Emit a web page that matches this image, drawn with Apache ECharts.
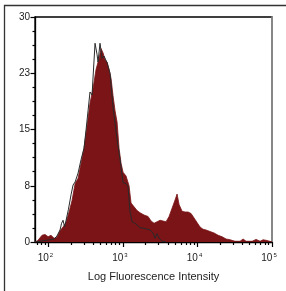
<!DOCTYPE html>
<html>
<head>
<meta charset="utf-8">
<script src="https://cdn.jsdelivr.net/npm/echarts@6/dist/echarts.min.js"></script>
<style>
  html, body { margin: 0; padding: 0; background: #fff; }
  #chart { width: 286px; height: 291px; }
</style>
</head>
<body>
<div id="chart"></div>
<script>
// stained sample (filled) - intensity / count
var stainedX = [66, 72, 82, 90, 99, 108, 119, 130, 143, 157, 172, 189, 207, 228, 250, 274, 300, 330, 361, 397,
  435, 478, 508, 541, 575, 612, 651, 692, 736, 783, 833, 886, 943, 1003, 1100, 1207, 1284, 1409, 1546, 1696,
  1918, 2172, 2383, 2614, 2868, 3147, 3452, 3787, 4155, 4558, 5001, 5321, 5662, 6213, 6815, 7477, 8203, 8999,
  9872, 10830, 11880, 13030, 14750, 16700, 18900, 21400, 24200, 27400, 31900, 37300, 40900, 44900, 54100,
  61200, 69200, 76000, 86000, 100000];
var stainedY = [0, 0.2, 0.9, 1.0, 0.7, 0.9, 0.5, 0.6, 1.5, 2.0, 2.6, 4.0, 5.5, 7.8, 8.5, 10.5, 12.5, 15.5, 18.5, 20.5,
  23.0, 24.5, 25.8, 25.2, 24.3, 24.0, 23.0, 21.8, 19.5, 17.5, 16.0, 12.5, 10.5, 9.3, 8.8, 7.5, 5.2, 4.7, 4.2, 3.9,
  3.6, 3.4, 2.8, 2.5, 2.7, 2.9, 2.8, 2.7, 3.4, 4.5, 5.6, 6.4, 5.0, 4.1, 4.0, 4.0, 3.8, 3.2,
  2.6, 2.0, 1.7, 1.6, 1.4, 1.2, 0.9, 0.7, 0.4, 0.3, 0.1, 0.1, 0.4, 0.1, 0.1,
  0.35, 0.1, 0.3, 0.2, 0];

// isotype control (outline)
var controlX = [66, 77, 90, 103, 119, 130, 143, 150, 157, 165, 185, 201, 214, 228, 250, 274, 300, 320, 340, 361,
  385, 397, 422, 449, 463, 492, 524, 557, 612, 671, 736, 833, 914, 1003, 1100, 1170, 1245, 1324, 1452, 1696,
  1980, 2311, 2536, 2698, 2868, 3049, 3350, 3787];
var controlY = [0, 0.1, 0.2, 0.3, 0.4, 0.8, 1.6, 2.5, 2.9, 2.0, 4.3, 6.3, 7.6, 8.0, 9.2, 11.0, 12.5, 15.0, 17.5, 20.0,
  19.6, 22.0, 26.5, 25.0, 24.0, 26.5, 24.5, 24.8, 23.9, 22.5, 18.0, 13.6, 11.0, 7.9, 7.8, 7.4, 4.0, 2.7, 2.5, 1.9,
  1.8, 1.6, 1.2, 0.5, 1.1, 0.5, 0.1, 0];

var xMajor = [100, 1000, 10000, 100000];
var xMinor = [];
[10, 100, 1000, 10000].forEach(function (d) {
  for (var k = 2; k <= 9; k++) xMinor.push(d * k);
});
var xMin = 66, xMax = 100000;

function pairs(xs, ys) {
  return xs.map(function (x, i) { return [x, ys[i]]; });
}

var font = "'Liberation Sans', Arial, Helvetica, sans-serif";
var ink = '#000';
var chart = echarts.init(document.getElementById('chart'));

chart.setOption({
  animation: false,
  textStyle: { fontFamily: font },
  grid: { left: 35, top: 17, right: 14, bottom: 49, show: true, borderColor: ink, borderWidth: 1.3 },
  xAxis: [
    {
      type: 'log', logBase: 10, min: xMin, max: xMax, position: 'bottom',
      name: 'Log Fluorescence Intensity', nameLocation: 'middle', nameGap: 29,
      nameTextStyle: { fontSize: 11, color: '#222', fontFamily: font },
      axisLine: { show: true, onZero: false, lineStyle: { color: ink, width: 1.3 } },
      axisTick: { show: true, inside: false, length: 5, customValues: xMajor, lineStyle: { color: ink, width: 1.2 } },
      axisLabel: {
        customValues: xMajor, margin: 10, padding: [0, 6, 0, 0],
        formatter: function (v) {
          return '{b|10}{s|' + Math.round(Math.log10(v)) + '}';
        },
        rich: {
          b: { fontSize: 10, color: '#222', fontFamily: font },
          s: { fontSize: 6, color: '#222', fontFamily: font, padding: [0, 0, 7, 1] }
        }
      },
      splitLine: { show: false }
    },
    {
      type: 'log', logBase: 10, min: xMin, max: xMax, position: 'bottom',
      axisLine: { show: false, onZero: false },
      axisTick: { show: true, length: 3, customValues: xMinor, lineStyle: { color: ink, width: 1.2 } },
      axisLabel: { show: false },
      splitLine: { show: false }
    }
  ],
  yAxis: [
    {
      type: 'value', min: 0, max: 30, interval: 7.5, position: 'left',
      axisLine: { show: true, onZero: false, lineStyle: { color: ink, width: 1.3 } },
      axisTick: { show: true, length: 4.5, lineStyle: { color: ink, width: 1.2 } },
      minorTick: { show: true, splitNumber: 4, length: 2.5, lineStyle: { color: ink, width: 1.2 } },
      axisLabel: {
        fontSize: 10, color: '#222', margin: 5, fontFamily: font,
        formatter: function (v) { return Math.round(v); }
      },
      splitLine: { show: false }
    },
    {
      type: 'value', min: 0, max: 30, position: 'right',
      axisLine: { show: true, onZero: false, lineStyle: { color: '#999', width: 1.5 } },
      axisTick: { show: false }, axisLabel: { show: false }, splitLine: { show: false }
    }
  ],
  graphic: [
    {
      type: 'polyline', silent: true, z: 100,
      shape: { points: [[4.5, 291], [4.5, 5.5], [286, 5.5]] },
      style: { stroke: '#333', lineWidth: 1.3, fill: null }
    }
  ],
  series: [
    {
      name: 'stained', type: 'line', xAxisIndex: 0, yAxisIndex: 0,
      data: pairs(stainedX, stainedY), symbol: 'none',
      lineStyle: { color: '#7a1417', width: 0.8 },
      areaStyle: { color: '#7a1417', opacity: 1 },
      z: 2
    },
    {
      name: 'control', type: 'line', xAxisIndex: 0, yAxisIndex: 0,
      data: pairs(controlX, controlY), symbol: 'none',
      lineStyle: { color: '#2a2a2a', width: 1 },
      z: 3
    }
  ]
});
</script>
</body>
</html>
